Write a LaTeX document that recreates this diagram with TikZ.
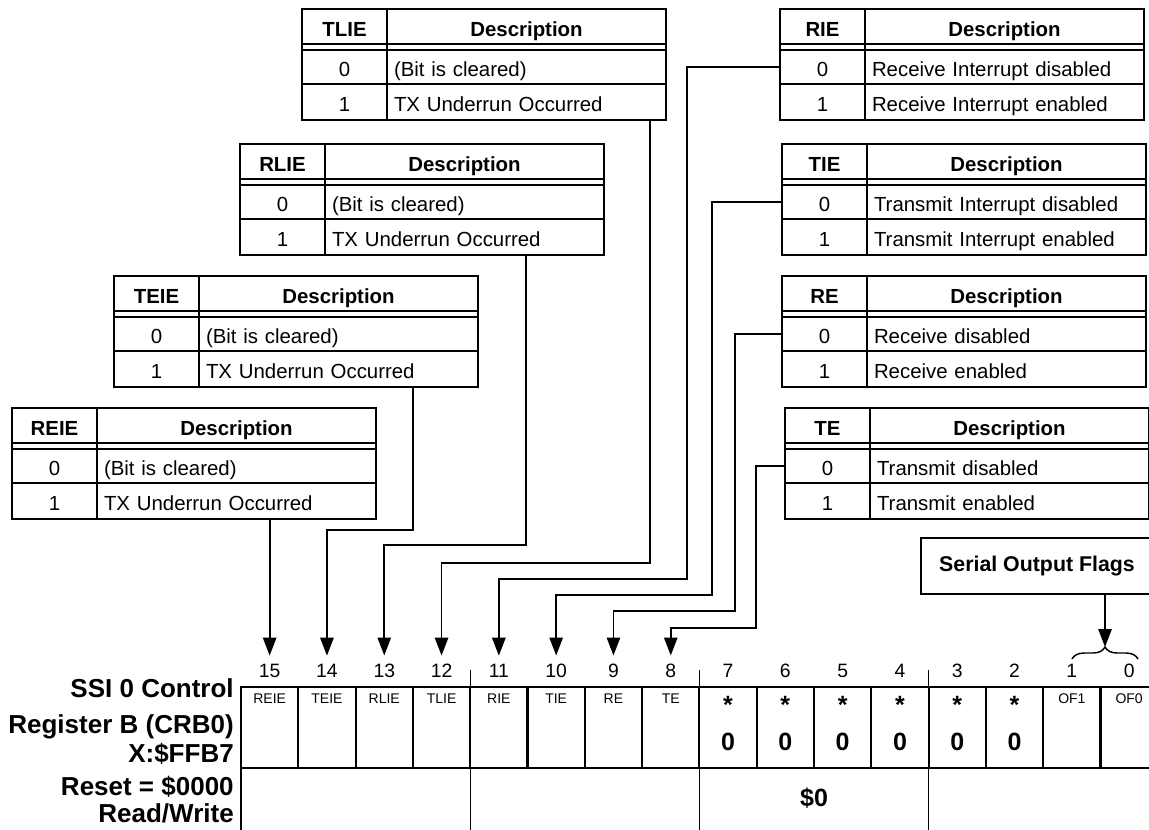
\documentclass[tikz,border=0pt]{standalone}
\usepackage{fontspec}
\setmainfont{Liberation Sans}
\usetikzlibrary{arrows.meta, decorations.pathreplacing}
\newlength{\pxu}
\setlength{\pxu}{0.75pt}

\begin{document}
\begin{tikzpicture}[x=0.75pt, y=-0.75pt,
  tcell/.style={draw, line width=1.1pt, outer sep=0pt, inner xsep=7\pxu, inner ysep=0pt,
    text height=13.5pt, text depth=0pt, anchor=north west, font=\fontsize{15.3}{18}\selectfont},
  hdr/.style={font=\fontsize{15.3}{18}\selectfont\bfseries, text height=10pt, minimum height=41\pxu},
  vcol/.style={tcell, minimum width=85\pxu},
  dcol/.style={tcell, text width=265\pxu, align=left},
  regcell/.style={draw, line width=1.6pt, outer sep=0pt, inner sep=0pt,
    minimum width=57.3\pxu, minimum height=81\pxu, anchor=north west},
  cellname/.style={font=\fontsize{10.5}{12}\selectfont, inner sep=0pt},
  cellval/.style={font=\fontsize{18.75}{22}\selectfont\bfseries, inner sep=0pt},
  bitno/.style={font=\fontsize{14.5}{17}\selectfont, inner sep=0pt, outer ysep=6.5pt},
  regname/.style={font=\fontsize{19.5}{23}\selectfont\bfseries, inner sep=0pt, anchor=base east},
  conn/.style={line width=1.35pt, -{Triangle[length=13.5pt, width=10pt]}},
  regline/.style={line width=1.6pt},
  sepline/.style={line width=1pt}]
\useasboundingbox (0,0) rectangle (1149,829);

% register bits
\foreach \b in {15,...,0}{
  \pgfmathsetmacro\cx{241+(15-\b)*57.3}
  \node[regcell] (c\b) at (\cx,687) {};
  \node[bitno] (b\b) at ([yshift=16\pxu]c\b.north) {\b};
}
\foreach \b/\t in {15/REIE, 14/TEIE, 13/RLIE, 12/TLIE, 11/RIE, 10/TIE, 9/RE, 8/TE, 1/OF1, 0/OF0}
  \node[cellname] (n\b) at ([yshift=-12\pxu]c\b.north) {\t};
\foreach \b in {7,...,2}{
  \node[cellval] (s\b) at ([yshift=-18\pxu]c\b.north) {*};
  \node[cellval] (z\b) at ([yshift=-55\pxu]c\b.north) {0};
}
\draw[regline] (c15.south west) -- ++(0,70);
\foreach \b in {12,8,4}
  \draw[sepline] ([yshift=17\pxu]c\b.north east) -- ([yshift=-70\pxu]c\b.south east);
\node[cellval] (reset) at ([yshift=-30\pxu]c6.south east) {\$0};

\node[regname] (nm1) at (234,697) {SSI 0 Control};
\node[regname] (nm2) at (234,733) {Register B (CRB0)};
\node[regname] (nm3) at (234,762) {X:\$FFB7};
\node[regname] (nm4) at (234,795) {Reset = \$0000};
\node[regname] (nm5) at (234,822) {Read/Write};

% bit tables
\foreach \n/\f/\x/\y/\da/\db in {
    tlie/TLIE/302/9/{(Bit is cleared)}/{TX Underrun Occurred},
    rlie/RLIE/240/144/{(Bit is cleared)}/{TX Underrun Occurred},
    teie/TEIE/114/276/{(Bit is cleared)}/{TX Underrun Occurred},
    reie/REIE/12/408/{(Bit is cleared)}/{TX Underrun Occurred},
    rie/RIE/780/9/{Receive Interrupt disabled}/{Receive Interrupt enabled},
    tie/TIE/782/144/{Transmit Interrupt disabled}/{Transmit Interrupt enabled},
    re/RE/782/276/{Receive disabled}/{Receive enabled},
    te/TE/785/408/{Transmit disabled}/{Transmit enabled}}{
  \node[vcol, hdr] (\n-h) at (\x,\y) {\f};
  \node[dcol, hdr, align=center] (\n-hd) at (\n-h.north east) {Description};
  \node[vcol, minimum height=34\pxu] (\n-0) at (\x,\y+41) {0};
  \node[dcol, minimum height=34\pxu] (\n-0d) at (\n-0.north east) {\da};
  \node[vcol, minimum height=36\pxu] (\n-1) at (\n-0.south west) {1};
  \node[dcol, minimum height=36\pxu] (\n-1d) at (\n-1.north east) {\db};
  \draw[line width=1.1pt] ([yshift=6\pxu]\n-0.north west) -- ([yshift=6\pxu]\n-0d.north east);
}

% connectors
\draw[conn] (reie-1d.south -| b15.north) -- (b15.north);
\draw[conn] ([xshift=-65\pxu]teie-1d.south east) -- ++(0,143) -| (b14.north);
\draw[conn] ([xshift=-78\pxu]rlie-1d.south east) -- ++(0,290) -| (b13.north);
\draw[conn] ([xshift=-16\pxu]tlie-1d.south east) -- ++(0,443) -| (b12.north);
\draw[conn] (rie-0.west) -- ++(-93,0) -- ++(0,512) -| (b11.north);
\draw[conn] (tie-0.west) -- ++(-70,0) -- ++(0,393) -| (b10.north);
\draw[conn] (re-0.west) -- ++(-47,0) -- ++(0,277) -| (b9.north);
\draw[conn] (te-0.west) -- ++(-29,0) -- ++(0,162) -| (b8.north);

% output flags
\node[draw, line width=1.1pt, outer sep=0pt, minimum width=232\pxu, minimum height=56\pxu,
      anchor=north west, font=\fontsize{16}{19}\selectfont\bfseries] (sof) at (921,538) {Serial Output Flags};
\coordinate (ofbrace) at (1105,647);
\draw[line width=1.1pt, decorate, decoration={brace, amplitude=9pt}] (1072,659) -- (1138,659);
\draw[conn] (sof.south -| ofbrace) -- (ofbrace);
\end{tikzpicture}
\end{document}
